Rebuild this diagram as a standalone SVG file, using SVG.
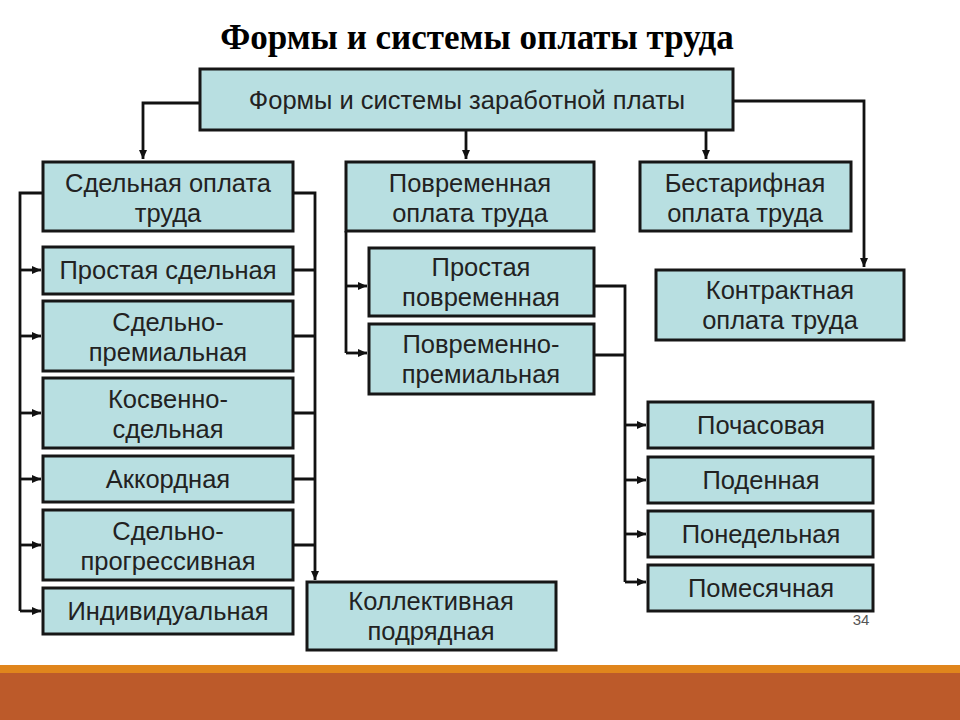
<svg xmlns="http://www.w3.org/2000/svg" width="960" height="720" viewBox="0 0 960 720">
<defs>
<marker id="arr" markerUnits="userSpaceOnUse" markerWidth="10" markerHeight="10" refX="9" refY="5" orient="auto">
<path d="M0,1 L9,5 L0,9 Z" fill="#111"/>
</marker>
<style>
.box{fill:#B8DFE1;stroke:#161616;stroke-width:3}
.t{font-family:"Liberation Sans",Arial,sans-serif;font-size:25.5px;fill:#222;text-anchor:middle}
.c{fill:none;stroke:#111;stroke-width:2.8}
.title{font-family:"Liberation Serif","Times New Roman",serif;font-size:35px;font-weight:bold;fill:#000;text-anchor:middle}
</style>
</defs>
<rect width="960" height="720" fill="#fff"/>
<text class="title" x="477" y="49">Формы и системы оплаты труда</text>

<g id="connectors">
<path class="c" d="M200,103 H143 V159" marker-end="url(#arr)"/>
<path class="c" d="M466,130 V159" marker-end="url(#arr)"/>
<path class="c" d="M706,130 V159" marker-end="url(#arr)"/>
<path class="c" d="M733,101 H864 V267" marker-end="url(#arr)"/>
<path class="c" d="M43,193 H20 V611"/>
<path class="c" d="M20,270 H41" marker-end="url(#arr)"/>
<path class="c" d="M20,336 H41" marker-end="url(#arr)"/>
<path class="c" d="M20,413 H41" marker-end="url(#arr)"/>
<path class="c" d="M20,479 H41" marker-end="url(#arr)"/>
<path class="c" d="M20,545 H41" marker-end="url(#arr)"/>
<path class="c" d="M20,611 H41" marker-end="url(#arr)"/>
<path class="c" d="M293,193 H315 V580" marker-end="url(#arr)"/>
<path class="c" d="M293,270 H315 M293,336 H315 M293,413 H315 M293,479 H315 M293,545 H315"/>
<path class="c" d="M346,231 V353"/>
<path class="c" d="M346,286 H367" marker-end="url(#arr)"/>
<path class="c" d="M346,353 H367" marker-end="url(#arr)"/>
<path class="c" d="M594,286 H625 V582 M594,355 H625"/>
<path class="c" d="M625,425 H646" marker-end="url(#arr)"/>
<path class="c" d="M625,480 H646" marker-end="url(#arr)"/>
<path class="c" d="M625,534 H646" marker-end="url(#arr)"/>
<path class="c" d="M625,582 H646" marker-end="url(#arr)"/>
</g>

<g id="root"><rect class="box" x="200" y="69" width="533" height="61"/><text class="t" x="467" y="109">Формы и системы заработной платы</text></g>

<g id="sdel"><rect class="box" x="43" y="162" width="250" height="69"/><text class="t" x="168" y="192">Сдельная оплата</text><text class="t" x="168" y="222">труда</text></g>
<g id="povr"><rect class="box" x="346" y="162" width="248" height="69"/><text class="t" x="470" y="192">Повременная</text><text class="t" x="470" y="222">оплата труда</text></g>
<g id="bestar"><rect class="box" x="640" y="162" width="211" height="69"/><text class="t" x="745" y="192">Бестарифная</text><text class="t" x="745" y="222">оплата труда</text></g>
<g id="kontr"><rect class="box" x="656" y="270" width="248" height="70"/><text class="t" x="780" y="299">Контрактная</text><text class="t" x="780" y="329">оплата труда</text></g>

<g id="prost-sdel"><rect class="box" x="43" y="247" width="250" height="47"/><text class="t" x="168" y="279">Простая сдельная</text></g>
<g id="sdel-prem"><rect class="box" x="43" y="301" width="250" height="70"/><text class="t" x="168" y="331">Сдельно-</text><text class="t" x="168" y="361">премиальная</text></g>
<g id="kosv"><rect class="box" x="43" y="378" width="250" height="70"/><text class="t" x="168" y="408">Косвенно-</text><text class="t" x="168" y="438">сдельная</text></g>
<g id="akkord"><rect class="box" x="43" y="456" width="250" height="46"/><text class="t" x="168" y="488">Аккордная</text></g>
<g id="sdel-progr"><rect class="box" x="43" y="510" width="250" height="70"/><text class="t" x="168" y="540">Сдельно-</text><text class="t" x="168" y="570">прогрессивная</text></g>
<g id="indiv"><rect class="box" x="43" y="588" width="250" height="46"/><text class="t" x="168" y="620">Индивидуальная</text></g>
<g id="kollekt"><rect class="box" x="307" y="582" width="249" height="68"/><text class="t" x="431" y="610">Коллективная</text><text class="t" x="431" y="640">подрядная</text></g>

<g id="prost-povr"><rect class="box" x="369" y="248" width="225" height="68"/><text class="t" x="481" y="276">Простая</text><text class="t" x="481" y="306">повременная</text></g>
<g id="povr-prem"><rect class="box" x="369" y="324" width="225" height="70"/><text class="t" x="481" y="353">Повременно-</text><text class="t" x="481" y="383">премиальная</text></g>

<g id="pochas"><rect class="box" x="648" y="402" width="225" height="46"/><text class="t" x="761" y="434">Почасовая</text></g>
<g id="poden"><rect class="box" x="648" y="457" width="225" height="46"/><text class="t" x="761" y="489">Поденная</text></g>
<g id="poned"><rect class="box" x="648" y="511" width="225" height="46"/><text class="t" x="761" y="543">Понедельная</text></g>
<g id="pomes"><rect class="box" x="648" y="565" width="225" height="46"/><text class="t" x="761" y="597">Помесячная</text></g>

<text x="861" y="625" style="font-family:'Liberation Sans',Arial,sans-serif;font-size:15px;fill:#555;text-anchor:middle">34</text>

<rect x="0" y="665" width="960" height="8" fill="#E0851C"/>
<rect x="0" y="673" width="960" height="47" fill="#BC5A2A"/>
</svg>
